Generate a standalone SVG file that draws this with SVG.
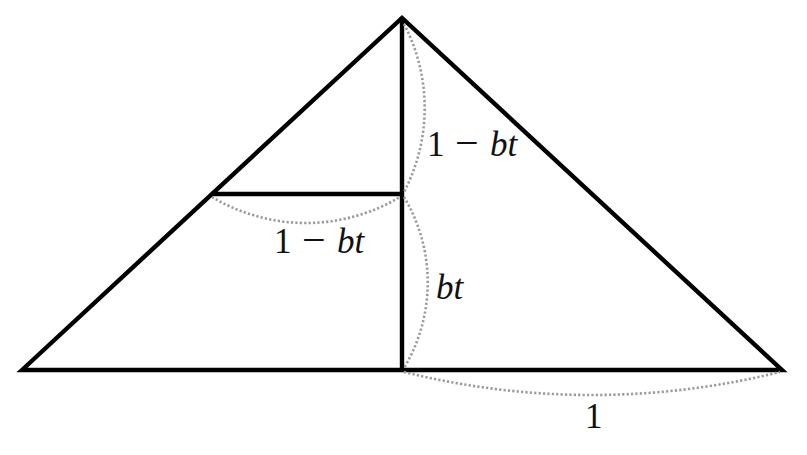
<svg xmlns="http://www.w3.org/2000/svg" width="807" height="455" viewBox="0 0 807 455">
<style>
.edge{fill:none;stroke:#000;stroke-width:4.4;stroke-linejoin:miter;stroke-linecap:butt}
.dim{fill:none;stroke:#9a9a9a;stroke-width:2.6;stroke-dasharray:2.2 2.2}
.lbl{font-family:"Liberation Serif","DejaVu Serif",serif;font-size:35px;fill:#111}
.v{font-style:italic}
.m{font-size:42px}
</style>
<rect width="807" height="455" fill="#fff"/>
<g id="shape">
<path class="edge" d="M22 370 L402 18 L782 370 Z"/>
<path class="edge" d="M402 18 L402 370"/>
<path class="edge" d="M211 194 L402 194"/>
</g>
<g id="dimensions">
<path class="dim" d="M404 24 A181 181 0 0 1 404 192"/>
<path class="dim" d="M404 197 A166 166 0 0 1 404 368"/>
<path class="dim" d="M212 197 A183 183 0 0 0 400 197"/>
<path class="dim" d="M404 372 A780 780 0 0 0 780 372"/>
</g>
<g id="labels">
<text class="lbl" y="156"><tspan x="427">1</tspan><tspan class="m" x="455" y="157">−</tspan><tspan class="v" x="490" y="156">bt</tspan></text>
<text class="lbl" y="253"><tspan x="274">1</tspan><tspan class="m" x="302" y="254">−</tspan><tspan class="v" x="337" y="253">bt</tspan></text>
<text class="lbl v" x="436" y="299">bt</text>
<text class="lbl" x="585" y="428">1</text>
</g>
</svg>
